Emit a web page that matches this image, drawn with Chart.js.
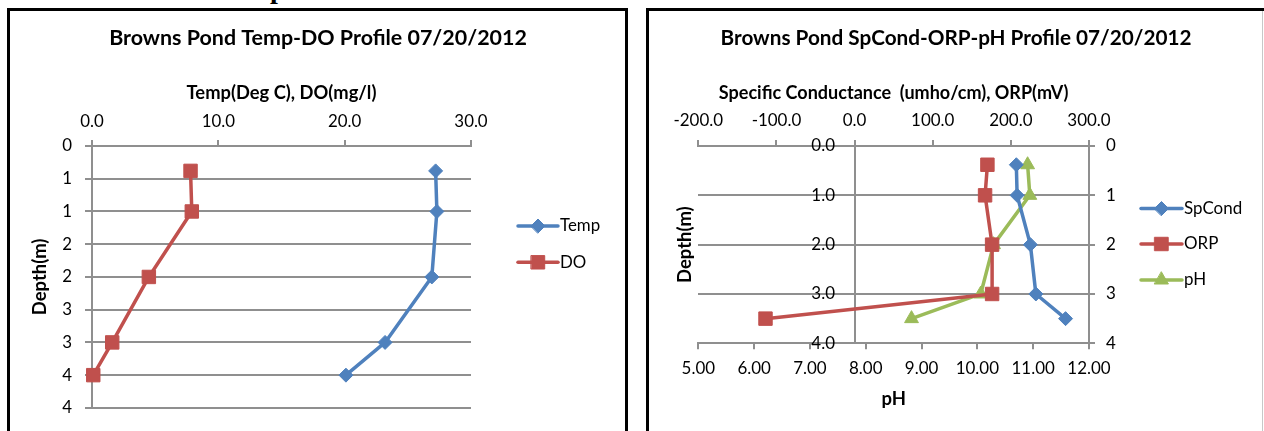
<!DOCTYPE html>
<html><head><meta charset="utf-8">
<script src="https://cdn.jsdelivr.net/npm/chart.js@4/dist/chart.umd.min.js"></script>
<style>
html,body{margin:0;padding:0;background:#fff;overflow:hidden;width:1264px;height:431px;}
.frame{position:absolute;box-sizing:border-box;border:3px solid #000;}
#f1{left:7px;top:8px;width:621px;height:460px;}
#f2{left:646px;top:8px;width:640px;height:460px;}
#edge{position:absolute;left:1262px;top:11px;width:1px;height:420px;background:#c8c8c8;}
#c1{position:absolute;left:10px;top:0;}
#c2{position:absolute;left:649px;top:0;}
#head{position:absolute;left:270px;top:-25.5px;font:bold 28px "Liberation Serif",serif;line-height:28px;color:#000;}
</style></head>
<body>
<div id="head">p</div>
<div class="frame" id="f1"></div>
<div class="frame" id="f2"></div>
<div id="edge"></div>
<canvas id="c1" width="616" height="431"></canvas>
<canvas id="c2" width="614" height="431"></canvas>
<script>
// ---------- DATA ----------
const depthsTempDO = [0.38, 1.0, 2.0, 3.0, 3.5];
const tempValues   = [27.2, 27.3, 26.9, 23.2, 20.1];
const doValues     = [7.8, 7.9, 4.5, 1.6, 0.1];

const depthsWater  = [0.38, 1.0, 2.0, 3.0, 3.5];
const spCondValues = [207, 208, 225, 232, 270];
const orpValues    = [170, 167, 176, 176, -114];
const phValues     = [10.90, 10.94, 10.29, 10.06, 8.82];

const leftXTickLabels     = ['0.0', '10.0', '20.0', '30.0'];
const leftDepthTickLabels = ['0', '1', '1', '2', '2', '3', '3', '4', '4'];
const rightTopTickLabels  = ['-200.0', '-100.0', '0.0', '100.0', '200.0', '300.0'];
const rightPhTickLabels   = ['5.00', '6.00', '7.00', '8.00', '9.00', '10.00', '11.00', '12.00'];
const rightDepthLeftTickLabels  = ['0.0', '1.0', '2.0', '3.0', '4.0'];
const rightDepthRightTickLabels = ['0', '1', '2', '3', '4'];

const title1 = 'Browns Pond Temp-DO Profile 07/20/2012';
const title2 = 'Browns Pond SpCond-ORP-pH Profile 07/20/2012';
const xTitle1 = 'Temp(Deg C), DO(mg/l)';
const xTitle2 = 'Specific Conductance  (umho/cm), ORP(mV)';
const depthTitle = 'Depth(m)';
const phTitle = 'pH';

// ---------- STYLE ----------
const FONT = 'Lato, "Open Sans", sans-serif';
const BLUE = '#4F81BD', RED = '#C0504D', GREEN = '#9BBB59';
const GRID = '#8f8f8f', GW = 2;
const mctx = document.createElement('canvas').getContext('2d');
function fitSize(text, weight, target) {
  mctx.font = weight + ' 100px ' + FONT;
  return 100 * target / mctx.measureText(text).width;
}
function textWidth(text, size) {
  mctx.font = size + 'px ' + FONT;
  return mctx.measureText(text).width;
}

const legendPlugin = {
  id: 'customLegend',
  afterDraw(chart, args, opts) {
    const ctx = chart.ctx;
    chart.data.datasets.forEach((ds, i) => {
      const y = opts.ys[i];
      ctx.save();
      ctx.strokeStyle = ds.borderColor; ctx.lineWidth = ds.borderWidth; ctx.lineCap = 'round';
      ctx.beginPath(); ctx.moveTo(opts.x1, y); ctx.lineTo(opts.x2, y); ctx.stroke();
      ctx.fillStyle = ds.backgroundColor; ctx.strokeStyle = ds.borderColor; ctx.lineWidth = 1;
      Chart.helpers.drawPoint(ctx, {pointStyle: ds.pointStyle, radius: ds.pointRadius, rotation: 0, borderWidth: 1}, (opts.x1 + opts.x2) / 2, y);
      ctx.fillStyle = '#000'; ctx.font = opts.fontSize + 'px ' + FONT;
      ctx.textBaseline = 'middle'; ctx.textAlign = 'left';
      ctx.fillText(ds.label, opts.textX, y);
      ctx.restore();
    });
  }
};

function series(label, xs, ys, color, style, radius, xAxisID, yAxisID) {
  return {
    label, data: ys.map((d, i) => ({x: xs[i], y: d})),
    borderColor: color, backgroundColor: color, pointBorderColor: color, pointBackgroundColor: color,
    pointStyle: style, pointRadius: radius, pointBorderWidth: 1, borderWidth: 3.5,
    borderJoinStyle: 'round', borderCapStyle: 'round',
    showLine: true, clip: false, xAxisID, yAxisID
  };
}

// ---------- LEFT CHART ----------
(function () {
  const tS = fitSize(title1, 'bold', 418), lhT = tS * 1.2;
  const aS = fitSize(xTitle1, 'bold', 190), lhA = aS * 1.2;
  const dS = fitSize(depthTitle, 'bold', 76.7), lhD = dS * 1.2;
  const kS = fitSize('10.0', 'normal', 33.3), lhK = kS * 1.2;
  const titleBox = 38 + lhT / 2;
  new Chart(document.getElementById('c1'), {
    type: 'scatter',
    data: {datasets: [
      series('Temp', tempValues, depthsTempDO, BLUE, 'rectRot', 7, 'x', 'y'),
      series('DO', doValues, depthsTempDO, RED, 'rect', 9.5, 'x', 'y')
    ]},
    options: {
      responsive: false, animation: false, devicePixelRatio: 1,
      layout: {padding: {left: 0, top: 0, right: 0, bottom: 431 - 412}},
      plugins: {
        legend: {display: false}, tooltip: {enabled: false},
        title: {display: true, text: title1, color: '#000', font: {family: FONT, weight: 'bold', size: tS}, padding: {top: 38 - lhT / 2, bottom: 0}},
        customLegend: {ys: [226, 262.3], x1: 508, x2: 548, textX: 550, fontSize: kS}
      },
      scales: {
        x: {
          type: 'linear', position: 'top', min: 0, max: 30,
          ticks: {stepSize: 10, color: '#000', font: {family: FONT, size: kS}, padding: 18.3 - lhK / 2, callback: v => leftXTickLabels[Math.round(v / 10)]},
          grid: {drawOnChartArea: false, drawTicks: true, tickLength: 6, color: GRID, lineWidth: GW},
          border: {display: true, color: GRID, width: GW},
          title: {display: true, text: xTitle1, color: '#000', font: {family: FONT, weight: 'bold', size: aS}, padding: {top: 93.3 - titleBox - lhA / 2, bottom: 0}},
          afterFit: s => { s.height = 146 - titleBox; }
        },
        y: {
          type: 'linear', position: 'left', reverse: true, min: 0, max: 4,
          ticks: {stepSize: 0.5, color: '#000', font: {family: FONT, size: kS}, padding: 13, callback: v => leftDepthTickLabels[Math.round(v / 0.5)]},
          grid: {drawOnChartArea: true, drawTicks: true, tickLength: 7, color: GRID, lineWidth: GW},
          border: {display: true, color: GRID, width: GW},
          title: {display: true, text: depthTitle, color: '#000', font: {family: FONT, weight: 'bold', size: dS}, padding: {top: 30 - lhD / 2, bottom: 0}},
          afterFit: s => { s.width = 82; }
        },
        yPad: {
          type: 'linear', position: 'right', display: true,
          ticks: {display: false}, grid: {display: false}, border: {display: false},
          afterFit: s => { s.width = 616 - 461; }
        }
      }
    },
    plugins: [legendPlugin]
  });
})();

// ---------- RIGHT CHART ----------
(function () {
  const tS = fitSize(title2, 'bold', 471), lhT = tS * 1.2;
  const aS = fitSize(xTitle2, 'bold', 350), lhA = aS * 1.2;
  const dS = fitSize(depthTitle, 'bold', 76.7), lhD = dS * 1.2;
  const pS = dS, lhP = pS * 1.2;
  const kS = fitSize('10.00', 'normal', 43.3), lhK = kS * 1.2;
  const titleBox = 38 + lhT / 2;
  const areaLeft = 49.3, areaRight = 440;
  const midLabelX = 186; // right edge of the 0.0-4.0 labels
  const w0 = textWidth('0.0', kS);
  new Chart(document.getElementById('c2'), {
    type: 'scatter',
    data: {datasets: [
      series('SpCond', spCondValues, depthsWater, BLUE, 'rectRot', 7, 'xTop', 'yLeft'),
      series('ORP', orpValues, depthsWater, RED, 'rect', 9.5, 'xTop', 'yLeft'),
      series('pH', phValues, depthsWater, GREEN, 'triangle', 8, 'xBottom', 'yRight')
    ]},
    options: {
      responsive: false, animation: false, devicePixelRatio: 1,
      layout: {padding: {left: 0, top: 0, right: 0, bottom: 0}},
      plugins: {
        legend: {display: false}, tooltip: {enabled: false},
        title: {display: true, text: title2, color: '#000', font: {family: FONT, weight: 'bold', size: tS}, padding: {top: 38 - lhT / 2, bottom: 0}},
        customLegend: {ys: [208.5, 244, 280], x1: 492, x2: 533, textX: 535, fontSize: kS}
      },
      scales: {
        xTop: {
          type: 'linear', position: 'top', min: -200, max: 300,
          ticks: {stepSize: 100, color: '#000', font: {family: FONT, size: kS}, padding: 19 - lhK / 2, callback: v => rightTopTickLabels[Math.round((v + 200) / 100)]},
          grid: {drawOnChartArea: false, drawTicks: true, tickLength: 6, color: GRID, lineWidth: GW},
          border: {display: true, color: GRID, width: GW},
          title: {display: true, text: xTitle2, color: '#000', font: {family: FONT, weight: 'bold', size: aS}, padding: {top: 93.3 - titleBox - lhA / 2, bottom: 0}},
          afterFit: s => { s.height = 146 - titleBox; }
        },
        xBottom: {
          type: 'linear', position: 'bottom', min: 5, max: 12,
          ticks: {stepSize: 1, color: '#000', font: {family: FONT, size: kS}, padding: 19 - lhK / 2, callback: v => rightPhTickLabels[Math.round(v - 5)]},
          grid: {drawOnChartArea: false, drawTicks: true, tickLength: 6, color: GRID, lineWidth: GW},
          border: {display: true, color: GRID, width: GW},
          title: {display: true, text: phTitle, color: '#000', font: {family: FONT, weight: 'bold', size: pS}, padding: {top: 0, bottom: 31.7 - lhP / 2}},
          afterFit: s => { s.height = 431 - 343.3; }
        },
        yLeft: {
          type: 'linear', position: 'left', reverse: true, min: 0, max: 4,
          ticks: {stepSize: 1, mirror: true, crossAlign: 'near', color: '#000', font: {family: FONT, size: kS}, padding: midLabelX - areaLeft - w0, callback: v => rightDepthLeftTickLabels[Math.round(v)]},
          grid: {drawOnChartArea: true, drawTicks: false, color: GRID, lineWidth: GW},
          border: {display: false},
          title: {display: true, text: depthTitle, color: '#000', font: {family: FONT, weight: 'bold', size: dS}, padding: {top: 36 - lhD / 2, bottom: 0}},
          afterFit: s => { s.width = areaLeft; s.paddingTop = 0; s.paddingBottom = 0; }
        },
        yMid: {
          type: 'linear', position: {xTop: 0}, reverse: true, min: 0, max: 4,
          ticks: {display: false, stepSize: 1},
          grid: {display: false},
          border: {display: true, color: GRID, width: GW}
        },
        yRight: {
          type: 'linear', position: 'right', reverse: true, min: 0, max: 4,
          ticks: {stepSize: 1, color: '#000', font: {family: FONT, size: kS}, padding: 11, callback: v => rightDepthRightTickLabels[Math.round(v)]},
          grid: {drawOnChartArea: false, drawTicks: true, tickLength: 6, color: GRID, lineWidth: GW},
          border: {display: true, color: GRID, width: GW},
          afterFit: s => { s.width = 614 - areaRight; }
        }
      }
    },
    plugins: [legendPlugin]
  });
})();
</script>
</body></html>
